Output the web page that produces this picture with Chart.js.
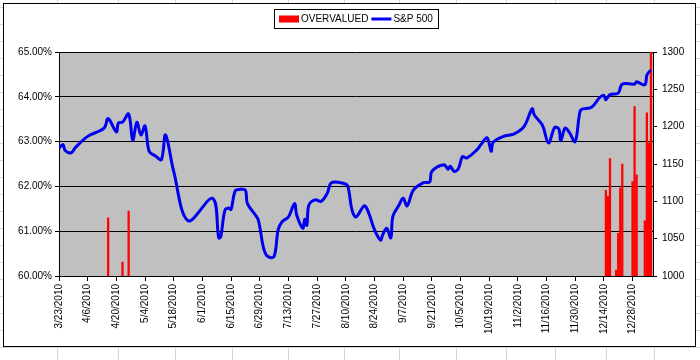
<!DOCTYPE html>
<html>
<head>
<meta charset="utf-8">
<script src="https://cdn.jsdelivr.net/npm/chart.js@4.4.0/dist/chart.umd.min.js"></script>
<style>
  html, body { margin: 0; padding: 0; background: #fff; }
  #wrap { position: relative; width: 700px; height: 360px; }
</style>
</head>
<body>
<div id="wrap"><canvas id="myChart" width="700" height="360"></canvas></div>
<script>
// axis ticks
const startDate = '3/23/2010';
const endDate = '1/7/2011';
const tickLabels = ['3/23/2010', '4/6/2010', '4/20/2010', '5/4/2010', '5/18/2010', '6/1/2010',
  '6/15/2010', '6/29/2010', '7/13/2010', '7/27/2010', '8/10/2010', '8/24/2010', '9/7/2010',
  '9/21/2010', '10/5/2010', '10/19/2010', '11/2/2010', '11/16/2010', '11/30/2010',
  '12/14/2010', '12/28/2010'];
const leftTicks = [0.60, 0.61, 0.62, 0.63, 0.64, 0.65];
const rightTicks = [1000, 1050, 1100, 1150, 1200, 1250, 1300];

// S&P 500 (right axis)
const spDates = ['3/23/2010', '3/25/2010', '3/26/2010', '3/29/2010', '3/31/2010', '4/6/2010',
  '4/14/2010', '4/16/2010', '4/20/2010', '4/21/2010', '4/23/2010', '4/26/2010', '4/28/2010',
  '4/30/2010', '5/2/2010', '5/4/2010', '5/6/2010', '5/9/2010', '5/12/2010', '5/14/2010',
  '5/18/2010', '5/25/2010', '6/6/2010', '6/9/2010', '6/10/2010', '6/12/2010', '6/14/2010',
  '6/15/2010', '6/17/2010', '6/19/2010', '6/22/2010', '6/23/2010', '6/28/2010', '6/29/2010',
  '7/1/2010', '7/3/2010', '7/6/2010', '7/8/2010', '7/10/2010', '7/13/2010', '7/16/2010',
  '7/17/2010', '7/20/2010', '7/21/2010', '7/22/2010', '7/23/2010', '7/26/2010', '7/29/2010',
  '8/1/2010', '8/3/2010', '8/9/2010', '8/11/2010', '8/13/2010', '8/15/2010', '8/19/2010',
  '8/21/2010', '8/24/2010', '8/27/2010', '8/28/2010', '8/30/2010', '9/1/2010', '9/2/2010',
  '9/5/2010', '9/7/2010', '9/9/2010', '9/12/2010', '9/17/2010', '9/20/2010', '9/21/2010',
  '9/27/2010', '9/29/2010', '9/30/2010', '10/2/2010', '10/4/2010', '10/6/2010', '10/8/2010',
  '10/13/2010', '10/15/2010', '10/18/2010', '10/20/2010', '10/21/2010', '10/26/2010',
  '10/31/2010', '11/5/2010', '11/9/2010', '11/10/2010', '11/14/2010', '11/17/2010',
  '11/20/2010', '11/22/2010', '11/23/2010', '11/25/2010', '11/27/2010', '11/30/2010',
  '12/2/2010', '12/3/2010', '12/8/2010', '12/12/2010', '12/14/2010', '12/15/2010',
  '12/17/2010', '12/21/2010', '12/23/2010', '12/29/2010', '12/30/2010', '1/3/2011',
  '1/4/2011', '1/5/2011', '1/6/2011'];
const sp500 = [1171, 1176, 1168, 1165, 1172, 1187,
  1198, 1211, 1193, 1205, 1206, 1217, 1182,
  1206, 1189, 1201, 1167, 1161, 1156, 1189,
  1140, 1074, 1104, 1051, 1053, 1088, 1091,
  1089, 1114, 1116, 1115, 1097, 1077, 1066,
  1036, 1026, 1026, 1062, 1073, 1079, 1097,
  1082, 1064, 1076, 1068, 1095, 1102, 1100,
  1111, 1125, 1124, 1120, 1089, 1079, 1094,
  1086, 1062, 1048, 1055, 1064, 1051, 1080,
  1095, 1104, 1094, 1115, 1125, 1126, 1140,
  1149, 1143, 1147, 1140, 1144, 1160, 1158,
  1169, 1176, 1185, 1167, 1179, 1187,
  1190, 1200, 1224, 1216, 1202, 1178,
  1199, 1197, 1181, 1198, 1193, 1180,
  1215, 1223, 1226, 1239, 1242, 1236,
  1243, 1245, 1257, 1257, 1260, 1256,
  1269, 1273, 1276];

// OVERVALUED (left axis), only the days that rise above 60%
const overvaluedDates = ['4/16/2010', '4/23/2010', '4/26/2010', '12/15/2010', '12/16/2010',
  '12/17/2010', '12/20/2010', '12/21/2010', '12/22/2010', '12/23/2010', '12/28/2010',
  '12/29/2010', '12/30/2010', '1/3/2011', '1/4/2011', '1/5/2011', '1/6/2011'];
const overvalued = [0.6130, 0.6031, 0.6145, 0.6191, 0.6177,
  0.6262, 0.6013, 0.6095, 0.6196, 0.6250, 0.6211,
  0.6378, 0.6226, 0.6123, 0.6364, 0.6297, 0.6500];

function dayOf(s) {
  var p = s.split('/').map(Number);
  var q = startDate.split('/').map(Number);
  return Math.round((Date.UTC(p[2], p[0] - 1, p[1]) - Date.UTC(q[2], q[0] - 1, q[1])) / 86400000);
}

// worksheet behind the chart
const sheetCols = [57, 118, 175, 232, 288, 344, 399, 456, 506, 555, 606, 654];
const frame = { left: 3, top: 3, right: 695, bottom: 346 };

const sheetPlugin = {
  id: 'sheet',
  beforeDraw(chart) {
    const ctx = chart.ctx;
    const a = chart.chartArea;
    ctx.save();
    ctx.fillStyle = '#fff';
    ctx.fillRect(0, 0, chart.width, chart.height);
    ctx.strokeStyle = '#d6d6d6';
    ctx.lineWidth = 1;
    ctx.beginPath();
    sheetCols.forEach(x => { ctx.moveTo(x + 0.5, 0); ctx.lineTo(x + 0.5, chart.height); });
    for (let y = 7; y < chart.height; y += 17) { ctx.moveTo(0, y + 0.5); ctx.lineTo(chart.width, y + 0.5); }
    ctx.stroke();
    ctx.fillStyle = '#fff';
    ctx.fillRect(frame.left, frame.top, frame.right - frame.left, frame.bottom - frame.top);
    ctx.strokeStyle = '#000';
    ctx.strokeRect(frame.left + 0.5, frame.top + 0.5, frame.right - frame.left, frame.bottom - frame.top);
    ctx.fillStyle = '#c0c0c0';
    ctx.fillRect(a.left, a.top, a.right - a.left, a.bottom - a.top);
    ctx.restore();
  }
};

const legendPlugin = {
  id: 'boxLegend',
  afterDraw(chart) {
    const ctx = chart.ctx;
    const a = chart.chartArea;
    const items = [chart.data.datasets[0], chart.data.datasets[1]];
    ctx.save();
    ctx.font = '10px "Liberation Sans", Arial, sans-serif';
    const sw = 20, gap = 2, pad = 5, sep = 3;
    let total = pad * 2 + sep * (items.length - 1);
    const widths = items.map(ds => ctx.measureText(ds.label).width);
    widths.forEach(w => { total += sw + gap + w; });
    const top = 9, h = 19;
    let x = Math.round((a.left + a.right) / 2 - total / 2);
    ctx.fillStyle = '#fff';
    ctx.fillRect(x, top, total, h);
    ctx.strokeStyle = '#000';
    ctx.lineWidth = 1;
    ctx.strokeRect(x + 0.5, top + 0.5, Math.round(total), h);
    const cy = top + h / 2 + 0.5;
    x += pad;
    items.forEach((ds, i) => {
      if (ds.type === 'bar') {
        ctx.fillStyle = ds.backgroundColor;
        ctx.fillRect(x, cy - 3.5, sw, 7);
      } else {
        ctx.strokeStyle = ds.borderColor;
        ctx.lineWidth = 3;
        ctx.beginPath();
        ctx.moveTo(x, cy);
        ctx.lineTo(x + sw, cy);
        ctx.stroke();
      }
      x += sw + gap;
      ctx.fillStyle = '#000';
      ctx.textBaseline = 'middle';
      ctx.fillText(ds.label, x, cy);
      x += widths[i] + sep;
    });
    ctx.restore();
  }
};

Chart.defaults.font.family = '"Liberation Sans", Arial, sans-serif';
Chart.defaults.font.size = 10;
Chart.defaults.color = '#000';

const ctx = document.getElementById('myChart').getContext('2d');
const myChart = new Chart(ctx, {
  type: 'bar',
  data: {
    datasets: [{
      type: 'bar',
      label: 'OVERVALUED',
      data: overvaluedDates.map((d, i) => ({ x: dayOf(d), y: overvalued[i] })),
      backgroundColor: '#ff0000',
      barThickness: 1.6,
      yAxisID: 'y',
      order: 1
    }, {
      type: 'line',
      label: 'S&P 500',
      data: spDates.map((d, i) => ({ x: dayOf(d), y: sp500[i] })),
      borderColor: '#0000ee',
      borderWidth: 3,
      pointRadius: 0,
      tension: 0.35,
      fill: false,
      yAxisID: 'y1',
      order: 0
    }]
  },
  options: {
    responsive: false,
    animation: false,
    devicePixelRatio: 1,
    layout: { padding: { top: 52, left: 0, right: 0, bottom: 0 } },
    plugins: { legend: { display: false }, tooltip: { enabled: false } },
    scales: {
      x: {
        type: 'linear',
        offset: false,
        min: 0,
        max: dayOf(endDate),
        afterBuildTicks: s => { s.ticks = tickLabels.map(t => ({ value: dayOf(t) })); },
        afterFit: s => { s.height = 84; },
        ticks: {
          autoSkip: false, minRotation: 90, maxRotation: 90, padding: 3,
          callback: (v, i) => tickLabels[i]
        },
        grid: { offset: false, drawOnChartArea: false, color: '#000', tickLength: 5 },
        border: { color: '#000' }
      },
      y: {
        position: 'left',
        min: 0.60,
        max: 0.65,
        afterBuildTicks: s => { s.ticks = leftTicks.map(v => ({ value: v })); },
        afterFit: s => { s.width = 59; },
        ticks: { padding: 3, callback: v => (v * 100).toFixed(2) + '%' },
        grid: { color: '#000', tickLength: 4 },
        border: { color: '#000' }
      },
      y1: {
        position: 'right',
        min: 1000,
        max: 1300,
        afterBuildTicks: s => { s.ticks = rightTicks.map(v => ({ value: v })); },
        afterFit: s => { s.width = 47; },
        ticks: { padding: 5, callback: v => String(v) },
        grid: { drawOnChartArea: false, color: '#000', tickLength: 4 },
        border: { color: '#000' }
      }
    }
  },
  plugins: [sheetPlugin, legendPlugin]
});
</script>
</body>
</html>
